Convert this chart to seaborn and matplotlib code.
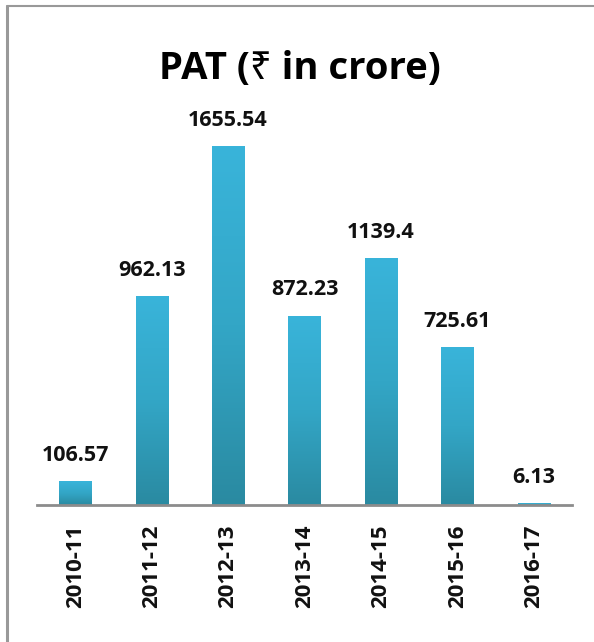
import numpy as np
import pandas as pd
import matplotlib
matplotlib.use("Agg")
import matplotlib.pyplot as plt
from matplotlib.colors import LinearSegmentedColormap
from matplotlib.lines import Line2D
import seaborn as sns

years = ["2010-11", "2011-12", "2012-13", "2013-14", "2014-15", "2015-16", "2016-17"]
pat = [106.57, 962.13, 1655.54, 872.23, 1139.4, 725.61, 6.13]
value_labels = ["106.57", "962.13", "1655.54", "872.23", "1139.4", "725.61", "6.13"]

sns.set_style("white")
plt.rcParams['font.family'] = ['Open Sans', 'Noto Sans', 'DejaVu Sans']

df = pd.DataFrame({"year": years, "pat": pat})

fig = plt.figure(figsize=(5.94, 6.42), dpi=100)
ax = fig.add_axes([0.0623, 0.2134, 0.9007, 0.6075])

sns.barplot(data=df, x="year", y="pat", ax=ax, color="#33a5c4", width=0.42)

# vertical gradient for each bar
grad = LinearSegmentedColormap.from_list("bar", ["#2a8aa1", "#33a6c6", "#39b4da"])
g = np.linspace(0, 1, 256).reshape(-1, 1)
for p in ax.patches:
    x0, w, h = p.get_x(), p.get_width(), p.get_height()
    p.set_facecolor("none")
    p.set_edgecolor("none")
    ax.imshow(g, cmap=grad, origin="lower", aspect="auto",
              extent=[x0, x0 + w, 0, h], zorder=2)
ax.set_xlim(-0.5, len(years) - 0.5)
ax.set_ylim(0, 1800)

for i, (v, lab) in enumerate(zip(pat, value_labels)):
    ax.text(i, v + 72, lab, ha="center", va="bottom", fontsize=15.5,
            fontweight="bold", color="#111111")

ax.set_xlabel("")
ax.set_ylabel("")
ax.set_yticks([])
ax.set_xticks(range(len(years)))
ax.set_xticklabels(years, rotation=90, fontsize=16, fontweight="bold", color="#111111")
ax.tick_params(axis="x", length=0, pad=14)
for s in ["top", "right", "left"]:
    ax.spines[s].set_visible(False)
ax.spines["bottom"].set_color("#8c8c8c")
ax.spines["bottom"].set_linewidth(2)

fig.text(0.505, 0.892, "PAT (₹ in crore)", ha="center", va="center",
         fontsize=27.5, fontweight="bold", color="#000000")

# frame lines of the chart area
fig.add_artist(Line2D([0.012, 0.012], [0, 0.991], color="#999999", lw=2.2,
                      transform=fig.transFigure))
fig.add_artist(Line2D([0.011, 1.0], [0.991, 0.991], color="#999999", lw=1.5,
                      transform=fig.transFigure))

fig.savefig("out.png", dpi=100)
